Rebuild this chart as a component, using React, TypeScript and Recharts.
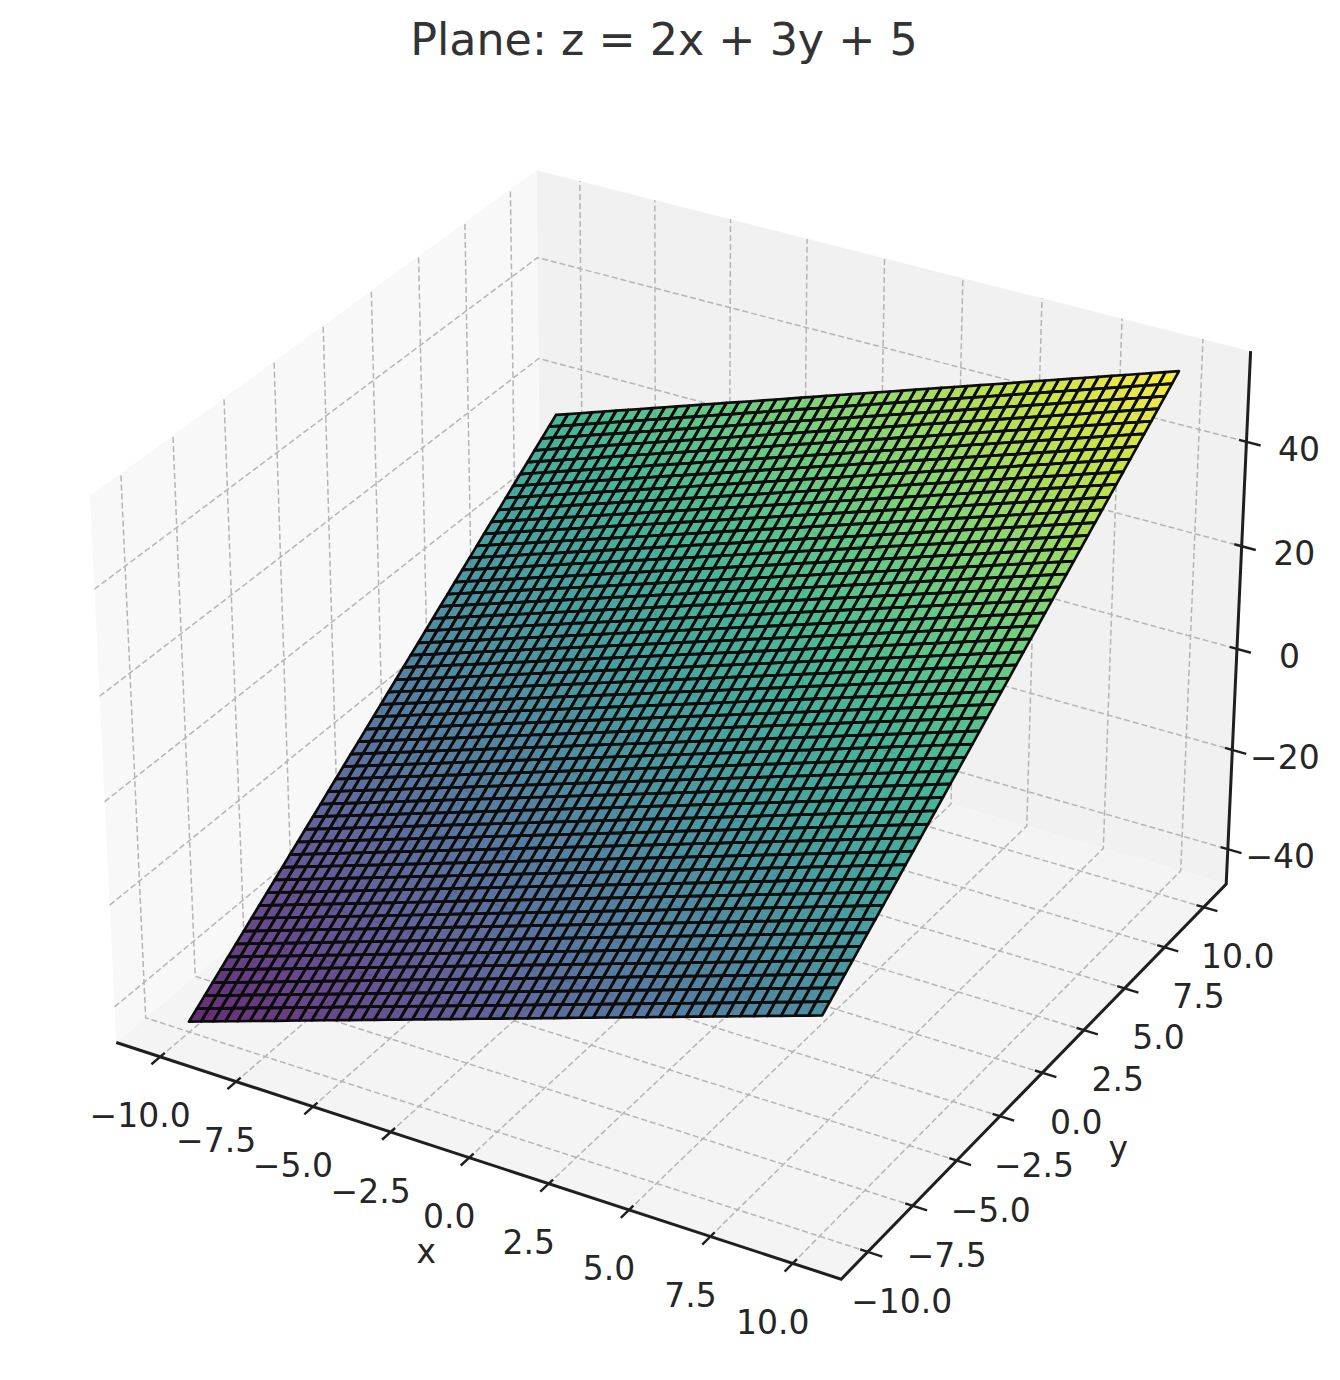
import { ScatterChart, Scatter, XAxis, YAxis } from "recharts";

const xValues = [-10, -9.592, -9.184, -8.776, -8.367, -7.959, -7.551, -7.143, -6.735, -6.327, -5.918, -5.51, -5.102, -4.694, -4.286, -3.878, -3.469, -3.061, -2.653, -2.245, -1.837, -1.429, -1.02, -0.612, -0.204, 0.204, 0.612, 1.02, 1.429, 1.837, 2.245, 2.653, 3.061, 3.469, 3.878, 4.286, 4.694, 5.102, 5.51, 5.918, 6.327, 6.735, 7.143, 7.551, 7.959, 8.367, 8.776, 9.184, 9.592, 10];
const yValues = xValues;
// height of the plane along its y = -10 edge, and how much it rises going towards y = 10
const zAlongX = [-45, -44.18, -43.37, -42.55, -41.73, -40.92, -40.1, -39.29, -38.47, -37.65, -36.84, -36.02, -35.2, -34.39, -33.57, -32.76, -31.94, -31.12, -30.31, -29.49, -28.67, -27.86, -27.04, -26.22, -25.41, -24.59, -23.78, -22.96, -22.14, -21.33, -20.51, -19.69, -18.88, -18.06, -17.24, -16.43, -15.61, -14.8, -13.98, -13.16, -12.35, -11.53, -10.71, -9.9, -9.08, -8.27, -7.45, -6.63, -5.82, -5];
const zRiseY = [0, 1.22, 2.45, 3.67, 4.9, 6.12, 7.35, 8.57, 9.8, 11.02, 12.24, 13.47, 14.69, 15.92, 17.14, 18.37, 19.59, 20.82, 22.04, 23.27, 24.49, 25.71, 26.94, 28.16, 29.39, 30.61, 31.84, 33.06, 34.29, 35.51, 36.73, 37.96, 39.18, 40.41, 41.63, 42.86, 44.08, 45.31, 46.53, 47.76, 48.98, 50.2, 51.43, 52.65, 53.88, 55.1, 56.33, 57.55, 58.78, 60];

const xyTicks = [-10, -7.5, -5, -2.5, 0, 2.5, 5, 7.5, 10];
const xyTickLabels = ["−10.0", "−7.5", "−5.0", "−2.5", "0.0", "2.5", "5.0", "7.5", "10.0"];
const zTicks = [-40, -20, 0, 20, 40];
const zTickLabels = ["−40", "−20", "0", "20", "40"];

const viridis = ["#440154", "#482475", "#414487", "#355f8d", "#2a788e", "#21918c", "#22a884", "#44bf70", "#7ad151", "#bddf26", "#fde725"];

const W = 1340;
const H = 1380;
// view scale and offsets: where the projected view coordinates land on the page
const SCALE = 6975;
const OX = 681.5;
const OY = 698;

const XY_LIM: [number, number] = [-11.458, 11.458];
const Z_LIM: [number, number] = [-47.083, 57.083];
const BOX = [1.19048, 1.19048, 0.89286];
const DIST = 10;
const U = [0.86603, 0.5, 0];
const V = [-0.25, 0.43301, 0.86603];
const N = [0.43301, -0.75, 0.5];

type Pt = { X: number; Y: number; depth: number };

// box-normalised coords to view coords (elev 30, azim -60)
function projectN(nx: number, ny: number, nz: number): Pt {
  const q = [BOX[0] * (nx - 0.5), BOX[1] * (ny - 0.5), BOX[2] * (nz - 0.5)];
  const dot = (a: number[]) => a[0] * q[0] + a[1] * q[1] + a[2] * q[2];
  const depth = dot(N);
  const d = DIST - depth;
  return { X: dot(U) / d, Y: dot(V) / d, depth };
}
const nXY = (v: number) => (v - XY_LIM[0]) / (XY_LIM[1] - XY_LIM[0]);
const nZ = (v: number) => (v - Z_LIM[0]) / (Z_LIM[1] - Z_LIM[0]);
const project = (x: number, y: number, z: number) => projectN(nXY(x), nXY(y), nZ(z));

function viridisAt(t: number) {
  const p = Math.max(0, Math.min(1, t)) * (viridis.length - 1);
  const i = Math.min(Math.floor(p), viridis.length - 2);
  const f = p - i;
  const ch = (hex: string, o: number) => parseInt(hex.slice(o, o + 2), 16);
  const mix = (o: number) => Math.round(ch(viridis[i], o) * (1 - f) + ch(viridis[i + 1], o) * f);
  return `rgb(${mix(1)},${mix(3)},${mix(5)})`;
}

const polygon = (corners: Pt[], fill: string) => ({
  X: corners[0].X,
  Y: corners[0].Y,
  corners,
  fill,
});

const zMin = zAlongX[0] + zRiseY[0];
const zMax = zAlongX[zAlongX.length - 1] + zRiseY[zRiseY.length - 1];

const surfaceCells: ReturnType<typeof polygon>[] = [];
for (let i = 0; i < xValues.length - 1; i++) {
  for (let j = 0; j < yValues.length - 1; j++) {
    const zs = [zAlongX[i] + zRiseY[j], zAlongX[i + 1] + zRiseY[j], zAlongX[i + 1] + zRiseY[j + 1], zAlongX[i] + zRiseY[j + 1]];
    const corners = [
      project(xValues[i], yValues[j], zs[0]),
      project(xValues[i + 1], yValues[j], zs[1]),
      project(xValues[i + 1], yValues[j + 1], zs[2]),
      project(xValues[i], yValues[j + 1], zs[3]),
    ];
    const mean = (zs[0] + zs[1] + zs[2] + zs[3]) / 4;
    surfaceCells.push(polygon(corners, viridisAt((mean - zMin) / (zMax - zMin))));
  }
}

const panes = [
  polygon([projectN(0, 0, 0), projectN(0, 1, 0), projectN(0, 1, 1), projectN(0, 0, 1)], "#f8f8f8"),
  polygon([projectN(0, 1, 0), projectN(1, 1, 0), projectN(1, 1, 1), projectN(0, 1, 1)], "#f1f1f1"),
  polygon([projectN(0, 0, 0), projectN(1, 0, 0), projectN(1, 1, 0), projectN(0, 1, 0)], "#f4f4f4"),
];

const gridLines: Pt[][] = [];
xyTicks.forEach((t) => {
  const n = nXY(t);
  gridLines.push([projectN(n, 0, 0), projectN(n, 1, 0), projectN(n, 1, 1)]);
  gridLines.push([projectN(1, n, 0), projectN(0, n, 0), projectN(0, n, 1)]);
});
zTicks.forEach((t) => {
  const n = nZ(t);
  gridLines.push([projectN(0, 0, n), projectN(0, 1, n), projectN(1, 1, n)]);
});

const TICK_OUT = 0.019;
const TICK_IN = 0.01;
const axisLines: Pt[][] = [
  [projectN(0, 0, 0), projectN(1, 0, 0), projectN(1, 1, 0), projectN(1, 1, 1)],
];
const tickMarks: Pt[][] = [
  ...xyTicks.map((t) => [projectN(nXY(t), -TICK_OUT, 0), projectN(nXY(t), TICK_IN, 0)]),
  ...xyTicks.map((t) => [projectN(1 + TICK_OUT, nXY(t), 0), projectN(1 - TICK_IN, nXY(t), 0)]),
  ...zTicks.map((t) => [projectN(1 + TICK_OUT, 1, nZ(t)), projectN(1 - TICK_IN, 1, nZ(t))]),
];

const labelPoint = (p: Pt, text: string, dx: number, dy: number) => ({ X: p.X, Y: p.Y, text, dx, dy });
const tickLabelPoints = [
  ...xyTicks.map((t, i) => labelPoint(projectN(nXY(t), 0, 0), xyTickLabels[i], -20, 59)),
  ...xyTicks.map((t, i) => labelPoint(projectN(1, nXY(t), 0), xyTickLabels[i], 34, 49.5)),
  ...zTicks.map((t, i) => labelPoint(projectN(1, 1, nZ(t)), zTickLabels[i], 52.5, 7.5)),
];
const axisTitlePoints = [
  labelPoint(projectN(0.5, 0, 0), "x", -43, 94),
  labelPoint(projectN(1, 0.5, 0), "y", 76, 75.5),
];

const FONT = "'DejaVu Sans', sans-serif";

const toPoints = (props: any) => {
  const { cx, cy, payload } = props;
  return payload.corners
    .map((c: Pt) => `${cx + (c.X - payload.X) * SCALE},${cy - (c.Y - payload.Y) * SCALE}`)
    .join(" ");
};

function PolygonShape(props: any) {
  return <polygon points={toPoints(props)} fill={props.payload.fill} />;
}

function CellFill(props: any) {
  return <polygon points={toPoints(props)} fill={props.payload.fill} fillOpacity={0.82} />;
}

function CellEdge(props: any) {
  return <polygon points={toPoints(props)} fill="none" stroke="#0c0c0c" strokeWidth={2.7} strokeLinejoin="round" />;
}

function TextShape(props: any) {
  const { cx, cy, payload } = props;
  return (
    <text x={cx + payload.dx} y={cy + payload.dy} textAnchor="middle" dominantBaseline="central" fontFamily={FONT} fontSize={33} fill="#262626">
      {payload.text}
    </text>
  );
}

const noDot = () => null;

export default function App() {
  return (
    <div style={{ position: "absolute", left: 0, top: 0, width: W, height: H, background: "#fff" }}>
      <ScatterChart width={W} height={H} margin={{ top: 0, right: 0, bottom: 0, left: 0 }}>
        <XAxis type="number" dataKey="X" domain={[-OX / SCALE, (W - OX) / SCALE]} hide />
        <YAxis type="number" dataKey="Y" domain={[(OY - H) / SCALE, OY / SCALE]} hide />
        <text x={664} y={39} textAnchor="middle" dominantBaseline="central" fontFamily={FONT} fontSize={44.4} fill="#333333">
          Plane: z = 2x + 3y + 5
        </text>
        <Scatter data={panes} shape={PolygonShape} isAnimationActive={false} />
        {gridLines.map((pts, i) => (
          <Scatter key={`g${i}`} data={pts} shape={noDot} line={{ stroke: "#b5b5b5", strokeWidth: 1.5, strokeDasharray: "6 3" }} isAnimationActive={false} />
        ))}
        {axisLines.map((pts, i) => (
          <Scatter key={`a${i}`} data={pts} shape={noDot} line={{ stroke: "#1f1f1f", strokeWidth: 3 }} isAnimationActive={false} />
        ))}
        {tickMarks.map((pts, i) => (
          <Scatter key={`t${i}`} data={pts} shape={noDot} line={{ stroke: "#1f1f1f", strokeWidth: 2.4 }} isAnimationActive={false} />
        ))}
        <Scatter data={surfaceCells} shape={CellFill} isAnimationActive={false} />
        <Scatter data={surfaceCells} shape={CellEdge} isAnimationActive={false} />
        <Scatter data={tickLabelPoints} shape={TextShape} isAnimationActive={false} />
        <Scatter data={axisTitlePoints} shape={TextShape} isAnimationActive={false} />
      </ScatterChart>
    </div>
  );
}
